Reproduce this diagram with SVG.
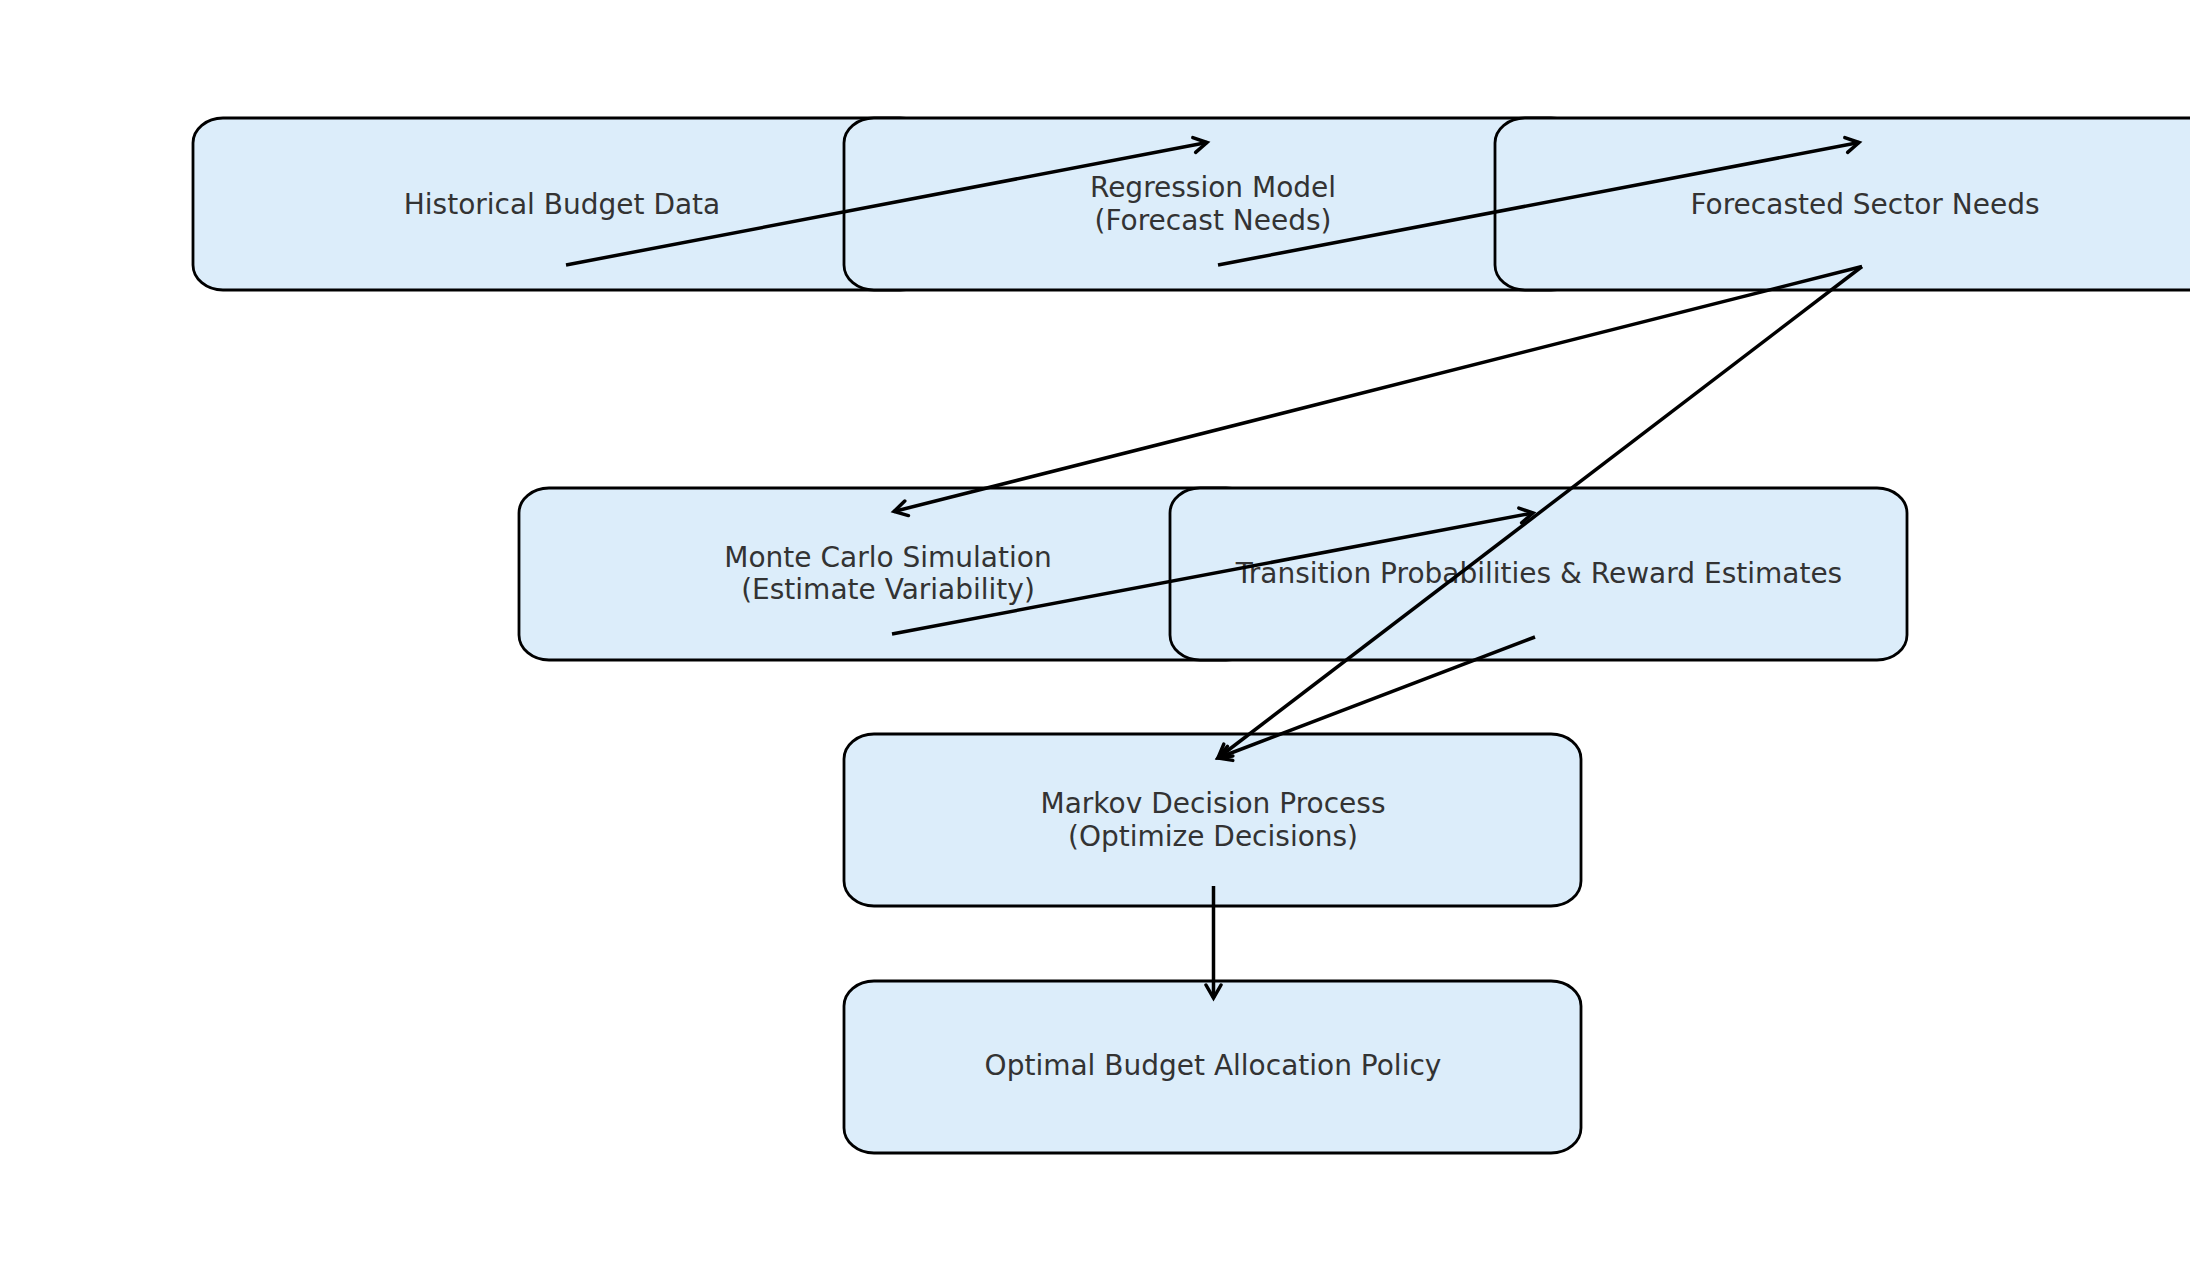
<svg xmlns="http://www.w3.org/2000/svg" width="2210" height="1272" viewBox="0 0 2210 1272">
<style>
.box{fill:#dcedfa;stroke:#000;stroke-width:2.8}
.lbl{font-family:"DejaVu Sans",sans-serif;font-size:28px;fill:#333333;text-anchor:middle;dominant-baseline:central}
.edge{stroke:#000;stroke-width:3.5;fill:none;marker-end:url(#ah)}
</style>
<defs>
<clipPath id="clip"><rect x="0" y="0" width="2190" height="1272"/></clipPath>
<marker id="ah" viewBox="-16 -10 20 20" markerWidth="20" markerHeight="20" refX="0" refY="0" orient="auto" markerUnits="userSpaceOnUse">
<path d="M-13,-7.5 L0,0 L-13,7.5" fill="none" stroke="#000" stroke-width="3.5" stroke-linecap="round" stroke-linejoin="miter"/>
</marker>
</defs>
<rect width="2210" height="1272" fill="#fff"/>
<g clip-path="url(#clip)">
<g id="historical"><rect class="box" x="193" y="118" width="737" height="172" rx="30" ry="25"/><text class="lbl" x="562" y="204">Historical Budget Data</text></g>
<g id="regression"><rect class="box" x="844" y="118" width="737" height="172" rx="30" ry="25"/><text class="lbl" x="1213" y="187.5">Regression Model</text><text class="lbl" x="1213" y="220">(Forecast Needs)</text></g>
<g id="forecasted"><rect class="box" x="1495" y="118" width="737" height="172" rx="30" ry="25"/><text class="lbl" x="1865" y="204">Forecasted Sector Needs</text></g>
<g id="montecarlo"><rect class="box" x="519" y="488" width="737" height="172" rx="30" ry="25"/><text class="lbl" x="888" y="557">Monte Carlo Simulation</text><text class="lbl" x="888" y="589">(Estimate Variability)</text></g>
<g id="transition"><rect class="box" x="1170" y="488" width="737" height="172" rx="30" ry="25"/><text class="lbl" x="1539" y="573">Transition Probabilities &amp; Reward Estimates</text></g>
<g id="markov"><rect class="box" x="844" y="734" width="737" height="172" rx="30" ry="25"/><text class="lbl" x="1213" y="803">Markov Decision Process</text><text class="lbl" x="1213" y="836">(Optimize Decisions)</text></g>
<g id="optimal"><rect class="box" x="844" y="981" width="737" height="172" rx="30" ry="25"/><text class="lbl" x="1213" y="1065">Optimal Budget Allocation Policy</text></g>
</g>
<g id="connectors">
<line class="edge" x1="566" y1="265" x2="1207" y2="142.5"/>
<line class="edge" x1="1218" y1="265" x2="1859" y2="142.5"/>
<line class="edge" x1="1862" y1="266.5" x2="894" y2="511.5"/>
<line class="edge" x1="1862" y1="266.5" x2="1218" y2="758"/>
<line class="edge" x1="892" y1="634" x2="1533" y2="513"/>
<line class="edge" x1="1535" y1="637" x2="1218" y2="758"/>
<line class="edge" x1="1213.5" y1="886" x2="1213.5" y2="998"/>
</g>
</svg>
